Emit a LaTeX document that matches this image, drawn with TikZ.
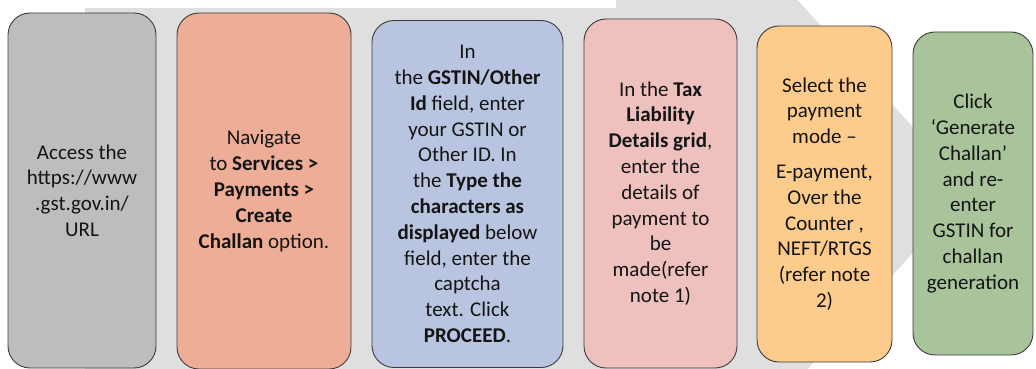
\documentclass[tikz,border=0pt]{standalone}
\usepackage{fontspec}
\setmainfont{Carlito}
\definecolor{bgarrow}{HTML}{DFDFDF}
\definecolor{cA}{HTML}{BDBDBD}
\definecolor{cB}{HTML}{EEAD96}
\definecolor{cC}{HTML}{B9C5E0}
\definecolor{cD}{HTML}{EEC0BE}
\definecolor{cE}{HTML}{FDCB8B}
\definecolor{cF}{HTML}{A9C49A}
\definecolor{txt}{HTML}{141414}
\definecolor{edge}{HTML}{3C3C3C}
\tikzset{
  stepbox/.style={draw=edge, line width=0.9pt, rounded corners=22pt, rectangle,
    inner sep=0pt, align=center, text=txt,
    font=\fontsize{21}{25.8}\selectfont},
}
\begin{document}
\begin{tikzpicture}[x=1pt,y=-1pt]
\useasboundingbox (0,0) rectangle (1036,369);
\begin{scope}
\clip (0,0) rectangle (1036,369);
\fill[bgarrow] (85,8) -- (616,8) -- (616,-200) -- (970,190) -- (616,580) -- (616,400) -- (85,400) -- cycle;
\end{scope}
\node[stepbox, fill=cA, minimum width=148pt, minimum height=355pt] (s1) at (82,190.5)
  {Access the\\https://www\\.gst.gov.in/\\URL};
\node[stepbox, fill=cB, minimum width=174pt, minimum height=356pt] (s2) at (264,191)
  {Navigate\\to \textbf{Services >}\\\textbf{Payments >}\\\textbf{Create}\\\textbf{Challan} option.};
\node[stepbox, fill=cC, minimum width=191pt, minimum height=347pt] (s3) at (467.5,194)
  {In\\the \textbf{GSTIN/Other}\\\textbf{Id} field, enter\\your GSTIN or\\Other ID. In\\the \textbf{Type the}\\\textbf{characters as}\\\textbf{displayed} below\\field, enter the\\captcha\\text. Click\\\textbf{PROCEED}.};
\node[stepbox, fill=cD, minimum width=153pt, minimum height=349pt] (s4) at (660.5,193.5)
  {In the \textbf{Tax}\\\textbf{Liability}\\\textbf{Details grid},\\enter the\\details of\\payment to\\be\\made(refer\\note 1)};
\node[stepbox, fill=cE, minimum width=135pt, minimum height=336pt] (s5) at (824.5,194)
  {Select the\\payment\\mode –\\[9pt]E-payment,\\Over the\\Counter ,\\NEFT/RTGS\\(refer note\\2)};
\node[stepbox, fill=cF, minimum width=120pt, minimum height=323pt] (s6) at (973,193.5)
  {Click\\‘Generate\\Challan’\\and re-\\enter\\GSTIN for\\challan\\generation};
\end{tikzpicture}
\end{document}
